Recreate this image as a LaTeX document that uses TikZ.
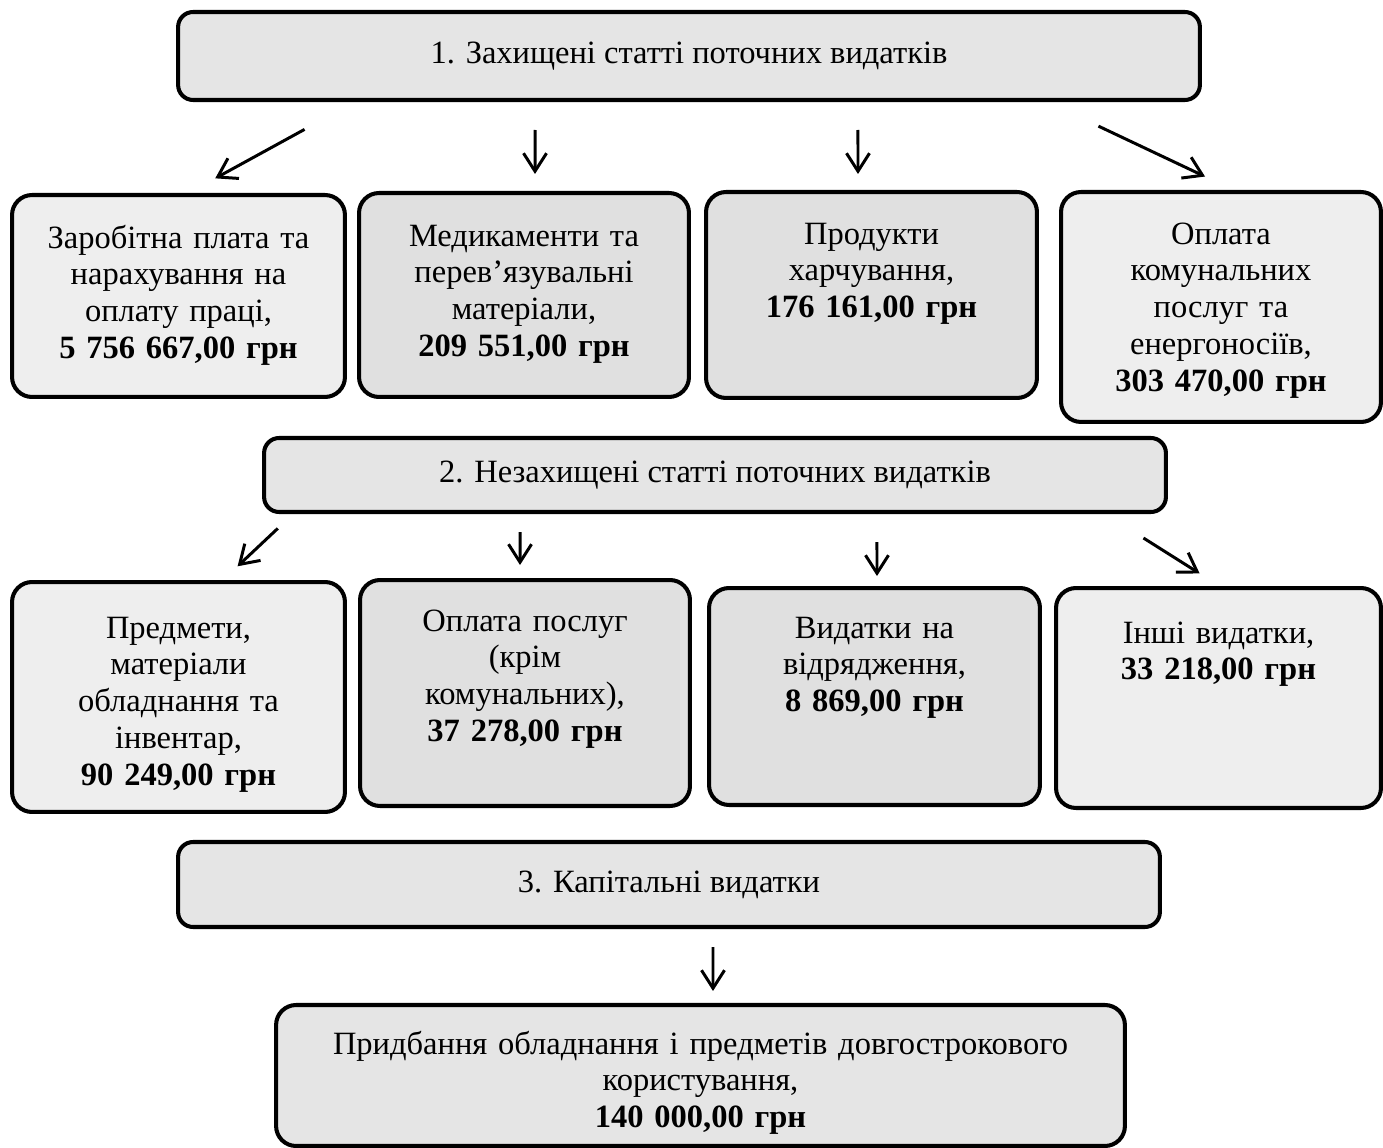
\documentclass[tikz,border=0pt]{standalone}
\usepackage{fontspec}
\setmainfont{Liberation Serif}
\usetikzlibrary{arrows.meta}

\begin{document}
\begin{tikzpicture}[x=0.02cm, y=-0.02cm,
		every node/.style={font=\fontsize{18.5}{21}\selectfont},
		head/.style={draw, rounded corners=0.3cm, line width=2.3pt, fill=gray!20, inner sep=0pt, align=center},
		item/.style={draw, rounded corners=0.4cm, line width=2.3pt, fill=gray!13, inner sep=0pt, align=center},
		dark/.style={fill=gray!24},
		arr/.style={-{Straight Barb[length=0.36cm, width=0.46cm]}, line width=1.7pt}]
		\useasboundingbox (0,0) rectangle (1383,1148);
		% 1
		\node[head, minimum width=20.44cm, minimum height=1.76cm] (t1) at (689,56) {1. Захищені статті поточних видатків};
		\node[item, text width=6.66cm, text height=1.06cm, text depth=2.98cm] (zp) at (178.5,296) {Заробітна плата та\\нарахування на\\оплату праці,\\\textbf{5 756 667,00 грн}};
		\node[item, dark, text width=6.6cm, text height=1.06cm, text depth=3.02cm] (med) at (524,295) {Медикаменти та\\перев’язувальні\\матеріали,\\\textbf{209 551,00 грн}};
		\node[item, dark, text width=6.62cm, text height=1.04cm, text depth=3.08cm] (prod) at (871.5,295) {Продукти\\харчування,\\\textbf{176 161,00 грн}};
		\node[item, text width=6.4cm, text height=1.04cm, text depth=3.56cm] (kom) at (1221,307) {Оплата\\комунальних\\послуг та\\енергоносіїв,\\\textbf{303 470,00 грн}};
		\draw[arr, shorten <=1.14cm, shorten >=0.61cm] ([xshift=3.57cm]t1.south west) -- ([xshift=0.2cm]zp.north);
		\draw[arr, shorten <=0.56cm, shorten >=0.34cm] ([xshift=-3.08cm]t1.south) -- ([xshift=0.22cm]med.north);
		\draw[arr, shorten <=0.56cm, shorten >=0.32cm] ([xshift=3.38cm]t1.south) -- ([xshift=-0.27cm]prod.north);
		\draw[arr, shorten <=1.13cm, shorten >=0.63cm] ([xshift=7.17cm]t1.south) -- ([xshift=0.25cm]kom.north);
		% 2
		\node[head, minimum width=18.04cm, minimum height=1.48cm] (t2) at (715,475) {2. Незахищені статті поточних видатків};
		\node[item, text width=6.66cm, text height=1.12cm, text depth=3.48cm] (pred) at (178.5,697) {Предмети,\\матеріали\\обладнання та\\інвентар,\\\textbf{90 249,00 грн}};
		\node[item, dark, text width=6.6cm, text height=1.02cm, text depth=3.5cm] (posl) at (525,693) {Оплата послуг\\(крім\\комунальних),\\\textbf{37 278,00 грн}};
		\node[item, dark, text width=6.62cm, text height=1.0cm, text depth=3.34cm] (vidr) at (874.5,696.5) {Видатки на\\відрядження,\\\textbf{8 869,00 грн}};
		\node[item, text width=6.5cm, text height=1.1cm, text depth=3.3cm] (inshi) at (1218.5,698) {Інші видатки,\\\textbf{33 218,00 грн}};
		\draw[arr, shorten <=0.42cm, shorten >=0.4cm] ([xshift=-8.44cm]t2.south) -- ([xshift=0.89cm]pred.north);
		\draw[arr, shorten <=0.36cm, shorten >=0.26cm] ([xshift=-3.9cm]t2.south) -- ([xshift=-0.1cm]posl.north);
		\draw[arr, shorten <=0.56cm, shorten >=0.2cm] ([xshift=3.24cm]t2.south) -- ([xshift=0.05cm]vidr.north);
		\draw[arr, shorten <=0.9cm, shorten >=0.47cm] ([xshift=7.81cm]t2.south) -- ([xshift=0.02cm]inshi.north);
		% 3
		\node[head, minimum width=19.64cm, minimum height=1.7cm] (t3) at (669,884.5) {3. Капітальні видатки};
		\node[item, fill=gray!20, text width=16.98cm, text height=0.98cm, text depth=1.84cm] (prid) at (700.5,1075.5) {Придбання обладнання і предметів довгострокового\\користування,\\\textbf{140 000,00 грн}};
		\draw[arr, shorten <=0.36cm, shorten >=0.24cm] ([xshift=0.88cm]t3.south) -- ([xshift=0.25cm]prid.north);
	\end{tikzpicture}
\end{document}
